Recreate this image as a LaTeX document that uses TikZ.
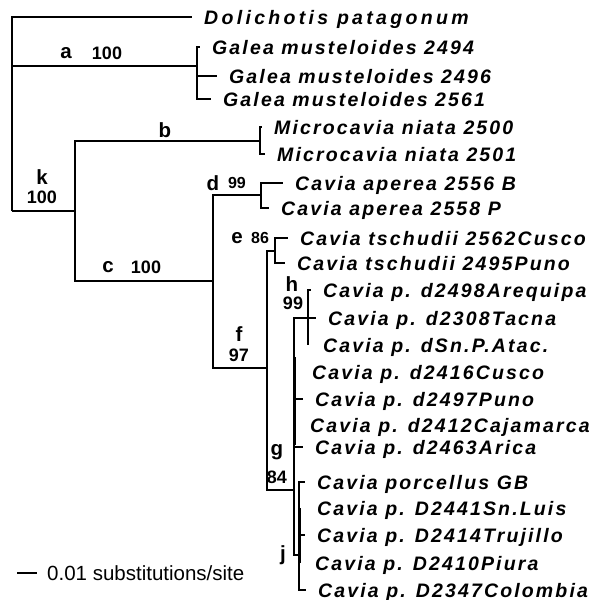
\documentclass[tikz,border=0pt]{standalone}
\usepackage{fontspec}
\setmainfont{Liberation Sans}
\newfontfamily\taxfont[LetterSpace=11]{Liberation Sans}
\usepackage{tikz}
\usetikzlibrary{calc}
\tikzstyle{branch} = [draw, line width=1.4pt]
\tikzstyle{collapsed} = [draw, line width=3pt]
\tikzstyle{taxon} = [anchor=west, inner xsep=12pt, inner ysep=0pt, text height=14pt, text depth=0pt, font=\taxfont\fontsize{19.5}{22}\selectfont\bfseries\itshape]
\tikzstyle{clade} = [inner sep=0pt, font=\fontsize{20.5}{22}\selectfont\bfseries]
\tikzstyle{boot} = [inner sep=0pt, font=\fontsize{18}{20}\selectfont\bfseries]
\tikzstyle{support} = [inner sep=0pt, font=\fontsize{16}{18}\selectfont\bfseries]

\begin{document}
\begin{tikzpicture}[x=1pt,y=-1pt]
	\useasboundingbox (0,0) rectangle (595,600);
	% -------------- Internal nodes --------------
	\coordinate (root) at (12,211);
	\coordinate (na) at (197,66);
	\coordinate (nk) at (75,211);
	\coordinate (nb) at (260,141);
	\coordinate (nc) at (213,281);
	\coordinate (nd) at (261,195);
	\coordinate (nf) at (267,368);
	\coordinate (ne) at (275,251);
	\coordinate (ng) at (294,490);
	\coordinate (nh) at (308,318);
	\coordinate (nj) at (299,555);
	% -------------- Taxa --------------
	\node[taxon] (t1)  at (192,17)  {\addfontfeatures{LetterSpace=17}Dolichotis patagonum};
	\node[taxon] (t2)  at (200,47)  {Galea musteloides 2494};
	\node[taxon] (t3)  at (217,76)  {Galea musteloides 2496};
	\node[taxon] (t4)  at (211,99)  {Galea musteloides 2561};
	\node[taxon] (t5)  at (262,127) {Microcavia niata 2500};
	\node[taxon] (t6)  at (265,154) {Microcavia niata 2501};
	\node[taxon] (t7)  at (283,183) {Cavia aperea 2556 B};
	\node[taxon] (t8)  at (269,208) {Cavia aperea 2558 P};
	\node[taxon] (t9)  at (288,238) {Cavia tschudii 2562Cusco};
	\node[taxon] (t10) at (285,263) {Cavia tschudii 2495Puno};
	\node[taxon] (t11) at (311,290) {Cavia p. d2498Arequipa};
	\node[taxon] (t12) at (316,318) {Cavia p. d2308Tacna};
	\node[taxon] (t13) at (311,345) {Cavia p. dSn.P.Atac.};
	\node[taxon] (t14) at (300,372) {Cavia p. d2416Cusco};
	\node[taxon] (t15) at (303,399) {Cavia p. d2497Puno};
	\node[taxon] (t16) at (298,425) {Cavia p. d2412Cajamarca};
	\node[taxon] (t17) at (303,447) {Cavia p. d2463Arica};
	\node[taxon] (t18) at (305,482) {Cavia porcellus GB};
	\node[taxon] (t19) at (305,508) {Cavia p. D2441Sn.Luis};
	\node[taxon] (t20) at (305,535) {Cavia p. D2414Trujillo};
	\node[taxon] (t21) at (303,563) {Cavia p. D2410Piura};
	\node[taxon] (t22) at (306,590) {Cavia p. D2347Colombia};
	% -------------- Branches --------------
	\draw[branch] (root) |- (t1);
	\draw[branch] (root) |- (na);
	\draw[branch] (root) -- (nk);
	\draw[branch] (na) |- (t2);
	\draw[branch] (na) |- (t3);
	\draw[branch] (na) |- (t4);
	\draw[branch] (nk) |- (nb);
	\draw[branch] (nk) |- (nc);
	\draw[branch] (nb) |- (t5);
	\draw[branch] (nb) |- (t6);
	\draw[branch] (nc) |- (nd);
	\draw[branch] (nc) |- (nf);
	\draw[branch] (nd) |- (t7);
	\draw[branch] (nd) |- (t8);
	\draw[branch] (nf) |- (ne);
	\draw[branch] (nf) |- (ng);
	\draw[branch] (ne) |- (t9);
	\draw[branch] (ne) |- (t10);
	\draw[branch] (ng) |- (nh);
	\draw[branch] (ng) |- (nj);
	\draw[branch] (ng) |- (t15);
	\draw[branch] (ng) |- (t17);
	\draw[branch] (nh) |- (t11);
	\draw[branch] (nh) -- (t12);
	\draw[branch] (nh) |- ($(nh |- t13)$);
	\draw[branch] (nj) |- (t18);
	\draw[branch] (nj) |- (t20);
	\draw[branch] (nj) |- (t22);
	% collapsed branches
	\draw[collapsed] ($(ng |- t14)+(0,-15)$) -- ($(ng |- t17)+(0,-2)$);
	\draw[collapsed] (nj |- t19) -- (nj |- t21);
	% -------------- Clade labels --------------
	\node[clade] (la) at (66,53)  {a};
	\node[boot] (sa) at (107,53) {100};
	\node[clade] (lb) at (165,130) {b};
	\node[clade] (lk) at (42,177) {k};
	\node[boot] (sk) at (42,197) {100};
	\node[clade] (lc) at (108,267) {c};
	\node[boot] (sc) at (146,267) {100};
	\node[clade] (ld) at (213,183) {d};
	\node[support] (sd) at (237,183) {99};
	\node[clade] (le) at (237,238) {e};
	\node[support] (se) at (260,238) {86};
	\node[clade] (lf) at (239,334) {f};
	\node[boot] (sf) at (239,355) {97};
	\node[clade] (lh) at (292,284) {h};
	\node[boot] (sh) at (293,303) {99};
	\node[clade] (lg) at (277,452) {g};
	\node[boot] (sg) at (277,477) {84};
	\node[clade] (lj) at (283,555) {j};
	% -------------- Scale --------------
	\coordinate (s0) at (17,573);
	\node[anchor=west, inner sep=0pt, font=\fontsize{20.5}{24}\selectfont] (scale) at (47,573) {0.01 substitutions/site};
	\draw[branch] (s0) -- ($(s0)+(20,0)$);
\end{tikzpicture}
\end{document}
